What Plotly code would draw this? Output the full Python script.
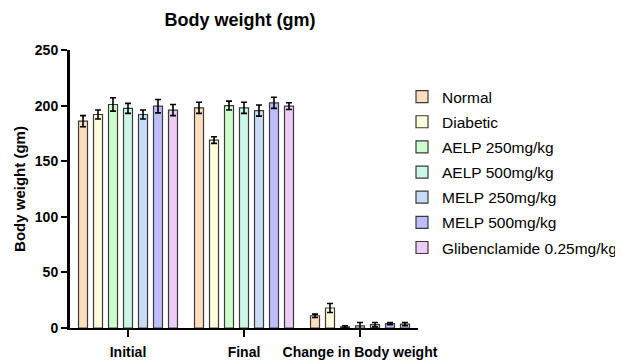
import plotly.graph_objects as go

categories = ["Initial", "Final", "Change in Body weight"]
groups = ["Normal", "Diabetic", "AELP 250mg/kg", "AELP 500mg/kg",
          "MELP 250mg/kg", "MELP 500mg/kg", "Glibenclamide 0.25mg/kg"]
colors = ["#FFDDBF", "#FFFFDD", "#CCFFCC", "#CCF7E8", "#C8DDF5", "#BDBDFF", "#EDCCF5"]

normal = [186, 198, 11]
diabetic = [192, 169, 18]
aelp250 = [201, 200, 1]
aelp500 = [197.5, 198, 2]
melp250 = [192, 195.5, 3]
melp500 = [199.5, 202.5, 4]
glib = [196, 199.5, 3.5]

normal_err = [5, 5, 1.5]
diabetic_err = [4, 3, 4]
aelp250_err = [6, 4, 1]
aelp500_err = [4.5, 5, 3]
melp250_err = [4, 5, 2]
melp500_err = [6, 5, 1]
glib_err = [5, 3, 1.5]

values = [normal, diabetic, aelp250, aelp500, melp250, melp500, glib]
errors = [normal_err, diabetic_err, aelp250_err, aelp500_err, melp250_err, melp500_err, glib_err]

FONT = "Liberation Sans, Arial, sans-serif"
W, H = 615, 354  # page body has an 8px margin

fig = go.Figure()
for name, col, v, e in zip(groups, colors, values, errors):
    fig.add_trace(go.Bar(
        name=name, x=categories, y=v, legendgroup=name,
        marker=dict(color=col, line=dict(color="#3a3a3a", width=1.2)),
        error_y=dict(type="data", array=e, visible=True, color="black", thickness=1.6, width=3),
    ))

fig.update_layout(
    width=W, height=H,
    margin=dict(l=62, r=205, t=42, b=34, autoexpand=False),
    paper_bgcolor="white", plot_bgcolor="white",
    barmode="group", bargap=0.095, bargroupgap=0.4,
    title=dict(text="<b>Body weight (gm)</b>", x=232 / W, xanchor="center",
               xref="container", yref="container",
               y=1 - 12 / H, yanchor="middle",
               font=dict(family=FONT, size=18, color="black")),
    showlegend=True,
    legend=dict(xref="container", yref="container",
                x=394 / W, xanchor="left", y=1 - 72 / H, yanchor="top",
                font=dict(family=FONT, size=15.5, color="black"),
                tracegroupgap=2, bgcolor="rgba(0,0,0,0)"),
    font=dict(family=FONT, size=12, color="black"),
)
fig.update_xaxes(
    automargin=False,
    showline=True, linecolor="black", linewidth=2,
    ticks="outside", ticklen=7, tickwidth=2, tickcolor="black",
    ticklabelstandoff=3,
    tickfont=dict(family=FONT, size=14, color="black"),
    tickvals=categories, ticktext=["<b>" + c + "</b>" for c in categories],
    range=[-0.5, 2.5], showgrid=False, zeroline=False,
)
fig.update_yaxes(
    automargin=False,
    range=[0, 250], tickvals=[0, 50, 100, 150, 200, 250],
    ticktext=["<b>%d</b>" % t for t in [0, 50, 100, 150, 200, 250]],
    tickfont=dict(family=FONT, size=14, color="black"),
    showline=True, linecolor="black", linewidth=3,
    ticks="outside", ticklen=6, tickwidth=2, tickcolor="black",
    showgrid=False, zeroline=False,
    title=dict(text="<b>Body weight (gm)</b>", standoff=6,
               font=dict(family=FONT, size=15, color="black")),
)

fig.write_html("out.html")
